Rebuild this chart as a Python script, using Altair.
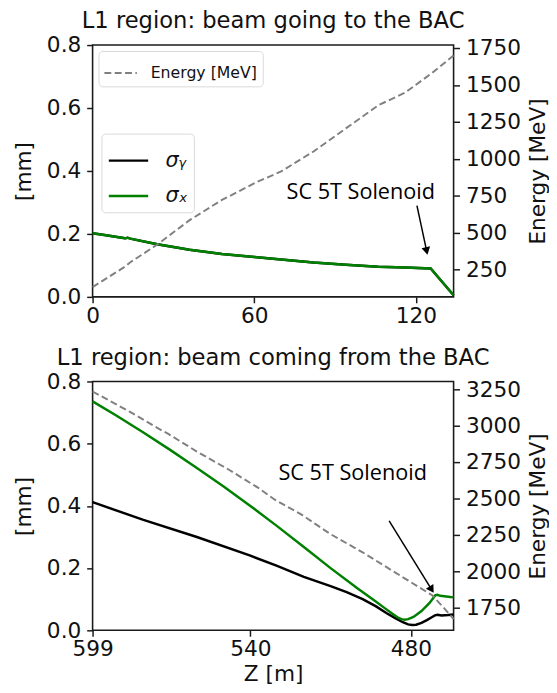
import altair as alt
import pandas as pd

# ---------------- Top panel: beam going to the BAC ----------------
z_top = [0, 5, 12, 13, 14, 24, 36, 48, 60, 70, 82, 94, 106, 116, 125.5, 134]
sigx_top = [0.202, 0.196, 0.186, 0.188, 0.185, 0.167, 0.150, 0.136, 0.127, 0.119,
            0.109, 0.102, 0.096, 0.093, 0.090, 0.005]
sigy_top = [0.202, 0.196, 0.186, 0.188, 0.185, 0.167, 0.150, 0.136, 0.127, 0.119,
            0.109, 0.102, 0.096, 0.093, 0.090, 0.005]
ze_top = [0, 12, 14, 24, 36, 48, 61, 70, 82, 94, 106, 116, 126, 130, 134]
e_top = [132, 270, 300, 420, 585, 722, 843, 915, 1050, 1206, 1362, 1448, 1581, 1640, 1700]

# ---------------- Bottom panel: beam coming from the BAC ----------------
zx_bot = [599, 590, 580, 570, 560, 550, 540, 530, 520, 510, 500, 494, 490, 487,
          485, 483.5, 482.3, 481, 479, 476, 473, 470.8, 470, 469, 466, 464]
sigx_bot = [0.736, 0.690, 0.636, 0.580, 0.522, 0.462, 0.400, 0.335, 0.268, 0.200,
            0.135, 0.098, 0.073, 0.054, 0.042, 0.036, 0.034, 0.036, 0.043, 0.062,
            0.088, 0.113, 0.114, 0.111, 0.108, 0.106]
zy_bot = [599, 580, 560, 540, 530, 520, 510, 504, 498, 493, 489, 486, 483, 481,
          479.5, 478, 476, 474, 472, 471, 470, 468.5, 466, 464]
sigy_bot = [0.412, 0.355, 0.300, 0.240, 0.207, 0.172, 0.142, 0.123, 0.100, 0.077,
            0.055, 0.040, 0.026, 0.019, 0.017, 0.018, 0.024, 0.033, 0.043, 0.048,
            0.050, 0.048, 0.049, 0.051]
ze_bot = [599, 585, 573, 571, 560, 548, 537, 531, 521, 510, 498, 482, 472, 468, 464]
e_bot = [3235, 3095, 2965, 2947, 2822, 2697, 2572, 2493, 2390, 2254, 2129, 1947,
         1834, 1755, 1670]

SIG_Y = "σᵧ"
SIG_X = "σₓ"
E_LABEL = "Energy [MeV]"
ANNOT = "SC 5T Solenoid"

# annotation anchors (data coordinates)
top_text = {"z": [72.0], "mm": [0.312], "t": [ANNOT]}
top_arrow = {"z": [120.4], "mm": [0.290], "z2": [124.0], "mm2": [0.146]}
top_head = {"z": [124.0], "mm": [0.146]}
bot_text = {"z": [529.5], "mm": [0.482], "t": [ANNOT]}
bot_arrow = {"z": [488.1], "mm": [0.352], "z2": [472.2], "mm2": [0.131]}
bot_head = {"z": [472.2], "mm": [0.131]}

FONT = "DejaVu Sans"
W = 367
H_TOP, H_BOT = 256, 253


def left_axis():
    return alt.Axis(title="[mm]", values=[0, 0.2, 0.4, 0.6, 0.8], format=".1f",
                    titlePadding=11, labelPadding=6, tickSize=6)


def right_axis(vals):
    return alt.Axis(title=E_LABEL, orient="right", values=vals, format="d",
                    titleAngle=270, titleBaseline="top", titlePadding=7,
                    labelPadding=6, tickSize=6)


def panel(zs_y, sy, zs_x, sx, ze, ev, xscale, xvals, xtitle, edom, evals,
          title, txt, arr, head, head_angle, with_legend, height):
    df_y = pd.DataFrame({"z": zs_y, "mm": sy, "s": [SIG_Y] * len(sy)})
    df_x = pd.DataFrame({"z": zs_x, "mm": sx, "s": [SIG_X] * len(sx)})
    df_e = pd.DataFrame({"z": ze, "E": ev, "lbl": [E_LABEL] * len(ev)})

    xenc = alt.X("z:Q", scale=xscale,
                 axis=alt.Axis(values=xvals, title=xtitle, labelFlush=False,
                               tickSize=6, labelPadding=3, titlePadding=4))
    yscale = alt.Scale(domain=[0, 0.8], nice=False, zero=False)

    if with_legend:
        col = alt.Color("s:N",
                        scale=alt.Scale(domain=[SIG_Y, SIG_X], range=["black", "green"]),
                        legend=alt.Legend(title=None, orient="none", legendX=9, legendY=90,
                                          symbolType="stroke", symbolSize=1600,
                                          symbolStrokeWidth=2.5, labelFontSize=21,
                                          labelFont=FONT, labelFontStyle="italic",
                                          labelOffset=16, rowPadding=4, padding=6,
                                          strokeColor="#d9d9d9", fillColor="white",
                                          cornerRadius=4, labelColor="#111111"))
        ly = alt.Chart(df_y).mark_line(strokeWidth=2.5).encode(
            x=xenc, y=alt.Y("mm:Q", scale=yscale, axis=left_axis()), color=col)
        lx = alt.Chart(df_x).mark_line(strokeWidth=2.5).encode(
            x=xenc, y=alt.Y("mm:Q", scale=yscale, axis=left_axis()), color=col)
        le = alt.Chart(df_e).mark_line(color="gray", strokeWidth=2).encode(
            x=xenc,
            y=alt.Y("E:Q", scale=alt.Scale(domain=edom, nice=False, zero=False),
                    axis=right_axis(evals)),
            strokeDash=alt.StrokeDash(
                "lbl:N", scale=alt.Scale(domain=[E_LABEL], range=[[7, 3.5]]),
                legend=alt.Legend(title=None, orient="none", legendX=6, legendY=6,
                                  symbolType="stroke", symbolSize=1089,
                                  symbolStrokeWidth=2, symbolStrokeColor="gray",
                                  labelFontSize=16, labelFont=FONT, labelOffset=13,
                                  padding=5, strokeColor="#d9d9d9", fillColor="white",
                                  cornerRadius=4, labelColor="#111111")))
    else:
        ly = alt.Chart(df_y).mark_line(strokeWidth=2.5, color="black").encode(
            x=xenc, y=alt.Y("mm:Q", scale=yscale, axis=left_axis()))
        lx = alt.Chart(df_x).mark_line(strokeWidth=2.5, color="green").encode(
            x=xenc, y=alt.Y("mm:Q", scale=yscale, axis=left_axis()))
        le = alt.Chart(df_e).mark_line(color="gray", strokeWidth=2,
                                       strokeDash=[7, 3.5]).encode(
            x=xenc,
            y=alt.Y("E:Q", scale=alt.Scale(domain=edom, nice=False, zero=False),
                    axis=right_axis(evals)))

    t = alt.Chart(pd.DataFrame(txt)).mark_text(
        align="left", baseline="alphabetic", font="Open Sans", fontSize=22,
        color="black").encode(x="z:Q", y="mm:Q", text="t:N")
    r = alt.Chart(pd.DataFrame(arr)).mark_rule(color="black", strokeWidth=1.5).encode(
        x="z:Q", y="mm:Q", x2="z2:Q", y2="mm2:Q")
    hd = alt.Chart(pd.DataFrame(head)).mark_point(
        shape="triangle-down", filled=True, size=80, angle=head_angle,
        color="black", opacity=1).encode(x="z:Q", y="mm:Q")

    inner = alt.layer(ly, lx, t, r, hd)
    return alt.layer(inner, le).resolve_scale(y="independent").properties(
        width=W, height=height,
        title=alt.Title(title, fontSize=23, font=FONT, fontWeight="normal",
                        offset=1, anchor="middle", color="#111111"))


top = panel(z_top, sigy_top, z_top, sigx_top, ze_top, e_top,
            alt.Scale(domain=[0, 134], nice=False, zero=False), [0, 60, 120], None,
            [66, 1770], [250, 500, 750, 1000, 1250, 1500, 1750],
            "L1 region: beam going to the BAC", top_text, top_arrow, top_head,
            347.6, True, H_TOP)

bottom = panel(zy_bot, sigy_bot, zx_bot, sigx_bot, ze_bot, e_bot,
               alt.Scale(domain=[464, 599], nice=False, zero=False, reverse=True),
               [599, 540, 480], "Z [m]",
               [1593, 3304], [1750, 2000, 2250, 2500, 2750, 3000, 3250],
               "L1 region: beam coming from the BAC", bot_text, bot_arrow, bot_head,
               327.9, False, H_BOT)

chart = alt.vconcat(top, bottom, spacing=19).resolve_scale(
    color="independent", strokeDash="independent").resolve_legend(
    color="independent", strokeDash="independent").properties(
    padding={"left": 4, "top": -4, "right": 0, "bottom": 0}
).configure_view(stroke="#1a1a1a", strokeWidth=1.6).configure_axis(
    grid=False, domain=False, labelFont=FONT, titleFont=FONT, labelFontSize=22,
    titleFontSize=22, titleFontWeight="normal", labelColor="#111111",
    titleColor="#111111", tickColor="#1a1a1a", tickWidth=1.5
)

chart.save("out.html", embed_options={"renderer": "svg", "actions": False})
